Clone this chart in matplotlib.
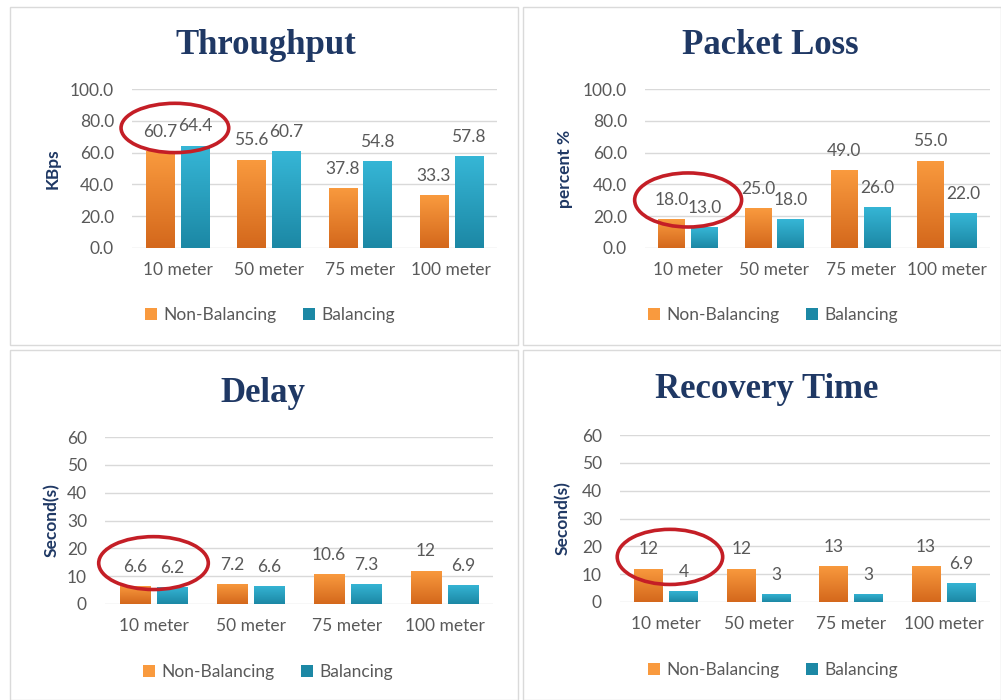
import numpy as np
import matplotlib
matplotlib.use("Agg")
import matplotlib.pyplot as plt
from matplotlib.patches import Rectangle, Ellipse, Patch
from matplotlib.colors import LinearSegmentedColormap

plt.rcParams['font.family'] = ['Lato', 'DejaVu Sans']

categories = ['10 meter', '50 meter', '75 meter', '100 meter']
series_names = ['Non-Balancing', 'Balancing']

throughput_nb = [60.7, 55.6, 37.8, 33.3]
throughput_b = [64.4, 60.7, 54.8, 57.8]
packet_loss_nb = [18.0, 25.0, 49.0, 55.0]
packet_loss_b = [13.0, 18.0, 26.0, 22.0]
delay_nb = [6.6, 7.2, 10.6, 12]
delay_b = [6.2, 6.6, 7.3, 6.9]
recovery_nb = [12, 12, 13, 13]
recovery_b = [4, 3, 3, 6.9]

W, H = 1001, 700
TITLE_COLOR = '#1F3864'
TEXT_COLOR = '#595959'
GRID_COLOR = '#D9D9D9'
ORANGE = ('#F99A3E', '#D4681C')
TEAL = ('#36B6D6', '#1C88A5')
FS = 12.5


def fx(px):
    return px / W


def fy(py):
    return 1 - py / H


def gradient_bars(ax, x, heights, width, colors):
    """draws bars with a vertical colour gradient"""
    cmap = LinearSegmentedColormap.from_list('g', [colors[1], colors[0]])
    grad = np.linspace(0, 1, 64).reshape(-1, 1)
    bars = ax.bar(x, heights, width, color=colors[0], zorder=2)
    for b in bars:
        b.set_facecolor('none')
        b.set_edgecolor('none')
        im = ax.imshow(grad, cmap=cmap, origin='lower', aspect='auto', zorder=2,
                       extent=[b.get_x(), b.get_x() + b.get_width(), 0, b.get_height()])
        im.set_clip_path(b)
    return bars


def panel(rect_px, axes_px, title, title_px, ylabel, ylabel_x, vals_nb, vals_b, ymax, ystep,
          tick_fmt, val_fmt, legend_px, ellipse):
    # panel box
    x0, y0, x1, y1 = rect_px
    fig.patches.append(Rectangle((fx(x0), fy(y1)), fx(x1 - x0), (y1 - y0) / H,
                                 transform=fig.transFigure, facecolor='white',
                                 edgecolor='#DADADA', linewidth=1, zorder=-5))
    left, top, right, bottom = axes_px
    ax = fig.add_axes([fx(left), fy(bottom), fx(right - left), (bottom - top) / H])
    ax.set_facecolor('none')
    x = np.arange(len(categories))
    gradient_bars(ax, x - 0.19, vals_nb, 0.31, ORANGE)
    gradient_bars(ax, x + 0.19, vals_b, 0.31, TEAL)
    for xs, vals in ((x - 0.19, vals_nb), (x + 0.19, vals_b)):
        for xi, v in zip(xs, vals):
            ax.annotate(val_fmt(v), (xi, v), xytext=(0, 8), textcoords='offset points',
                        ha='center', va='bottom', fontsize=FS, color=TEXT_COLOR)
    ax.set_xlim(-0.5, len(categories) - 0.5)
    ax.set_ylim(0, ymax)
    ax.set_yticks(np.arange(0, ymax + ystep / 2, ystep))
    ax.set_yticklabels([tick_fmt(t) for t in np.arange(0, ymax + ystep / 2, ystep)])
    ax.set_xticks(x)
    ax.set_xticklabels(categories)
    ax.tick_params(axis='both', length=0, labelsize=FS, labelcolor=TEXT_COLOR)
    ax.tick_params(axis='x', pad=10)
    ax.tick_params(axis='y', pad=13)
    ax.grid(axis='y', color=GRID_COLOR, linewidth=1, zorder=0)
    ax.set_axisbelow(True)
    for s in ax.spines.values():
        s.set_visible(False)
    # title, axis label, legend
    fig.text(fx(title_px[0]), fy(title_px[1]), title, ha='center', va='center',
             fontsize=25, fontweight='bold', color=TITLE_COLOR, family='Liberation Serif')
    fig.text(fx(ylabel_x), fy((top + bottom) / 2), ylabel, rotation=90, ha='center', va='center',
             fontsize=12.5, fontweight='bold', color=TITLE_COLOR)
    handles = [Patch(facecolor=ORANGE[0], edgecolor='none'), Patch(facecolor=TEAL[1], edgecolor='none')]
    fig.legend(handles, series_names, loc='center', bbox_to_anchor=(fx(legend_px[0]), fy(legend_px[1])),
               ncol=2, frameon=False, fontsize=FS, labelcolor=TEXT_COLOR, handlelength=0.7,
               handleheight=0.7, handletextpad=0.4, columnspacing=1.5)
    # red annotation ellipse around the first group
    ex, ey, ew, eh = ellipse
    ax.add_patch(Ellipse((ex, ey), ew, eh, fill=False, edgecolor='#C41E26', linewidth=2.6,
                         clip_on=False, zorder=5))
    return ax


fig = plt.figure(figsize=(W / 100, H / 100), dpi=100)
fig.patch.set_facecolor('white')

one_dec = lambda v: f"{v:.1f}"
gen = lambda v: f"{v:g}"
intf = lambda v: f"{v:.0f}"

panel((10, 7, 518, 345), (132, 89, 497, 248), 'Throughput', (266, 45), 'KBps', 53,
      throughput_nb, throughput_b, 100, 20, one_dec, one_dec, (270, 315),
      (-0.03, 75.5, 1.18, 31))
panel((523, 7, 1001, 345), (645, 89, 990, 248), 'Packet Loss', (770, 45), 'percent %', 565,
      packet_loss_nb, packet_loss_b, 100, 20, one_dec, one_dec, (773, 315),
      (0.0, 30.2, 1.24, 34))
panel((10, 350, 518, 700), (105, 437, 493, 604), 'Delay', (263, 393), 'Second(s)', 52,
      delay_nb, delay_b, 60, 10, intf, gen, (268, 672),
      (0.0, 14.7, 1.13, 19))
panel((523, 350, 1001, 700), (620, 435, 990, 602), 'Recovery Time', (767, 390), 'Second(s)', 563,
      recovery_nb, recovery_b, 60, 10, intf, gen, (773, 670),
      (0.04, 16.2, 1.14, 19.8))

fig.savefig('out.png', dpi=100)
